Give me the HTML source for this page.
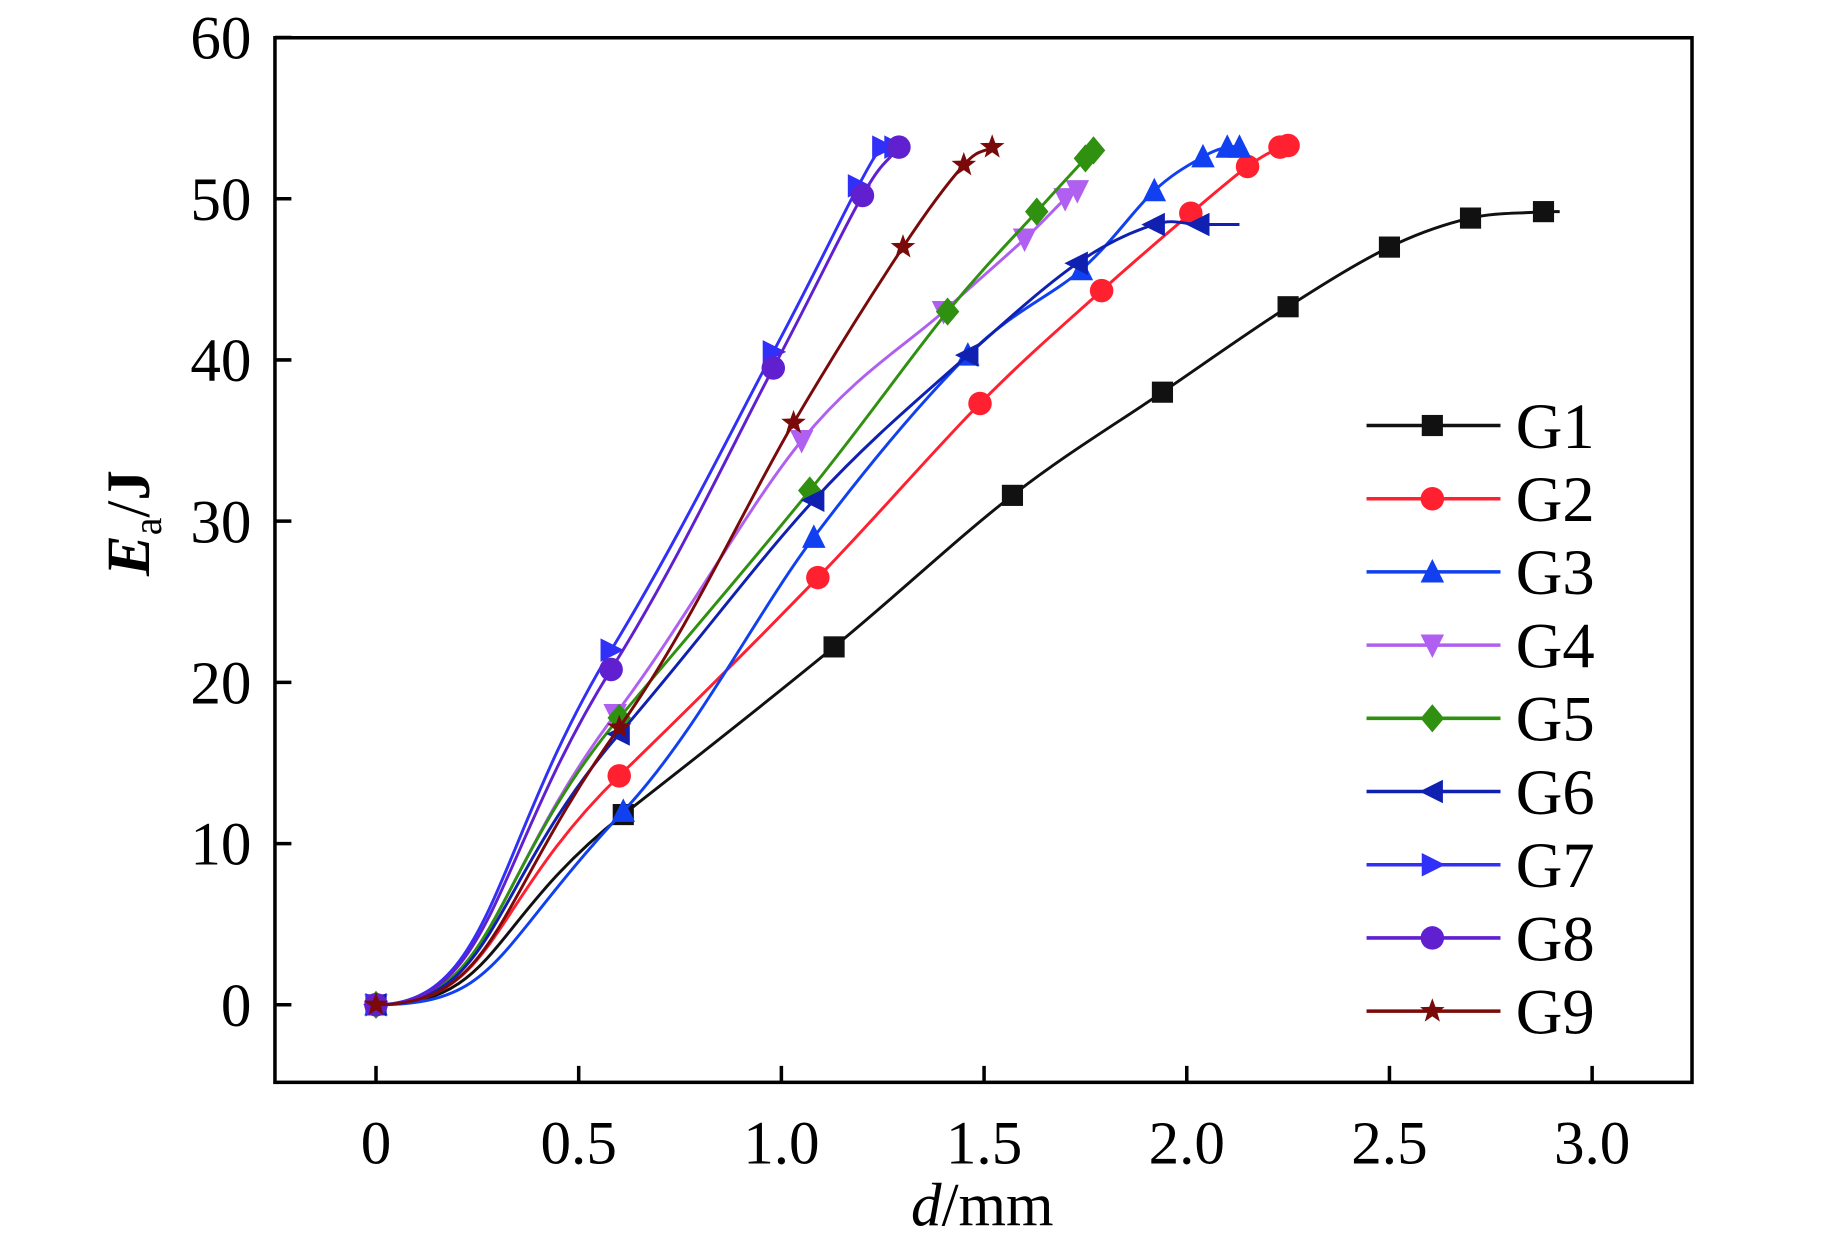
<!DOCTYPE html>
<html><head><meta charset="utf-8"><style>
html,body{margin:0;padding:0;background:#fff;}
svg{display:block;}
text{font-family:"Liberation Serif",serif;fill:#000;}
</style></head><body>
<svg id="chart" width="1843" height="1247" viewBox="0 0 1568.5 1061" xmlns="http://www.w3.org/2000/svg">
<g id="axes"></g>
<g id="series"></g>
<g id="legend"></g>
</svg>
<script>
const xTicks=[0,0.5,1.0,1.5,2.0,2.5,3.0];
const xTickLabels=["0","0.5","1.0","1.5","2.0","2.5","3.0"];
const yTicks=[0,10,20,30,40,50,60];
const yTickLabels=["0","10","20","30","40","50","60"];
const seriesNames=["G1","G2","G3","G4","G5","G6","G7","G8","G9"];
const g1x=[0,0.61,1.13,1.57,1.94,2.25,2.5,2.7,2.88], g1y=[0,11.8,22.2,31.6,38,43.3,47,48.8,49.2];
const g2x=[0,0.6,1.09,1.49,1.79,2.01,2.15,2.23,2.25], g2y=[0,14.2,26.5,37.3,44.3,49.1,52,53.2,53.3];
const g3x=[0,0.61,1.08,1.46,1.74,1.92,2.04,2.1,2.13], g3y=[0,12,29,40.3,45.6,50.5,52.6,53.2,53.2];
const g4x=[0,0.59,1.05,1.4,1.6,1.7,1.73], g4y=[0,18,35,43,47.5,50,50.5];
const g5x=[0,0.6,1.07,1.41,1.63,1.75,1.77], g5y=[0,17.8,31.9,43,49.2,52.5,53];
const g6x=[0,0.6,1.08,1.46,1.73,1.92,2.03], g6y=[0,16.8,31.3,40.3,46,48.4,48.4];
const g7x=[0,0.58,0.98,1.19,1.25,1.28], g7y=[0,22,40.5,50.8,53.2,53.2];
const g8x=[0,0.58,0.98,1.2,1.29], g8y=[0,20.8,39.5,50.2,53.2];
const g9x=[0,0.6,1.03,1.3,1.45,1.52], g9y=[0,17.2,36.1,47,52.1,53.2];

const NS="http://www.w3.org/2000/svg";
const X0=320,XU=345,Y0=855,YU=13.72;
function sx(v){return X0+v*XU;}
function sy(v){return Y0-v*YU;}
function mk(tag,attrs,parent){const e=document.createElementNS(NS,tag);for(const k in attrs)e.setAttribute(k,attrs[k]);parent.appendChild(e);return e;}
const axes=document.getElementById('axes'),ser=document.getElementById('series'),leg=document.getElementById('legend');
const L=234,T=32,R=1440,B=921;
const frame=mk('rect',{x:L,y:T,width:R-L,height:B-T,fill:'none',stroke:'#000','stroke-width':3},axes);


xTicks.forEach((v,i)=>{
  const t=mk('line',{x1:sx(v),x2:sx(v),y1:B,y2:B-14,stroke:'#000','stroke-width':3},axes);
  
  
  const l=mk('text',{x:sx(v),y:990,'text-anchor':'middle','font-size':52},axes);
  l.textContent=xTickLabels[i];
  
  
});
yTicks.forEach((v,i)=>{
  const t=mk('line',{x1:L,x2:L+14,y1:sy(v),y2:sy(v),stroke:'#000','stroke-width':3},axes);
  
  
  const l=mk('text',{x:214,y:sy(v)+18,'text-anchor':'end','font-size':52},axes);
  l.textContent=yTickLabels[i];
  
  
});
const xt=mk('text',{x:836,y:1043,'text-anchor':'middle','font-size':52},axes);
xt.innerHTML='<tspan font-style="italic">d</tspan>/mm';


const yt=mk('text',{x:0,y:0,'text-anchor':'middle','font-size':52,'font-weight':'bold',transform:'translate(127,445) rotate(-90)'},axes);
yt.innerHTML='<tspan font-style="italic">E</tspan><tspan font-size="34" font-weight="normal" dy="10">a</tspan><tspan font-weight="normal" dy="-10">/</tspan><tspan>J</tspan>';



const colors=['#111111','#ff2030','#1040f0','#b060f0','#309010','#1020b0','#3030f8','#6020d0','#7a0a0a'];
const shapes=['square','circle','up','down','diamond','left','right','circle','star'];
const allX=[g1x,g2x,g3x,g4x,g5x,g6x,g7x,g8x,g9x],allY=[g1y,g2y,g3y,g4y,g5y,g6y,g7y,g8y,g9y];
const extend=[2.92,null,null,null,null,2.13,null,null,null];

function marker(shape,x,y,c,parent){
  const s=9;let e;
  if(shape==='square')e=mk('rect',{x:x-s,y:y-s,width:2*s,height:2*s,fill:c},parent);
  else if(shape==='circle')e=mk('circle',{cx:x,cy:y,r:s+1,fill:c},parent);
  else{
    let p;
    if(shape==='up')p=[[x,y-s-2],[x+s+1,y+s],[x-s-1,y+s]];
    else if(shape==='down')p=[[x,y+s+2],[x+s+1,y-s],[x-s-1,y-s]];
    else if(shape==='left')p=[[x-s-2,y],[x+s,y-s-1],[x+s,y+s+1]];
    else if(shape==='right')p=[[x+s+2,y],[x-s,y-s-1],[x-s,y+s+1]];
    else if(shape==='diamond')p=[[x,y-s-3],[x+s+1,y],[x,y+s+3],[x-s-1,y]];
    else {p=[];for(let k=0;k<10;k++){const a=-Math.PI/2+k*Math.PI/5,r=k%2?4.5:11;p.push([x+r*Math.cos(a),y+r*Math.sin(a)]);}}
    e=mk('polygon',{points:p.map(q=>q.join(',')).join(' '),fill:c},parent);
  }
  return e;
}
function smoothPath(px,py){
  let d='M'+px[0]+','+py[0];
  const n=px.length;
  for(let i=0;i<n-1;i++){
    let c1x,c1y,t1x,t1y;
    if(i===0){c1x=px[0]+(px[1]-px[0])*0.5;c1y=py[0];}
    else{c1x=px[i]+(px[i+1]-px[i-1])/6;c1y=py[i]+(py[i+1]-py[i-1])/6;}
    if(i+1===n-1){t1x=px[i+1]-px[i];t1y=py[i+1]-py[i];}
    else{t1x=(px[i+2]-px[i])/2;t1y=(py[i+2]-py[i])/2;}
    let k=(i===0)?0.6:1/3;
    d+=' C'+c1x+','+c1y+' '+(px[i+1]-t1x*k)+','+(py[i+1]-t1y*k)+' '+px[i+1]+','+py[i+1];
  }
  return d;
}
allX.forEach((xs,si)=>{
  const g=mk('g',{},ser);
  
  
  const px=xs.map(sx),py=allY[si].map(sy);
  let d=smoothPath(px,py);
  if(extend[si]!==null)d+=' L'+sx(extend[si])+','+py[py.length-1];
  const p=mk('path',{d:d,fill:'none',stroke:colors[si],'stroke-width':2.5},g);
  
  
  px.forEach((x,k)=>{
    const m=marker(shapes[si],x,py[k],colors[si],g);
    
    
  });
});
seriesNames.forEach((nm,i)=>{
  const y=362+i*62.3;
  const g=mk('g',{},leg);
  
  
  mk('line',{x1:1163,x2:1277,y1:y,y2:y,stroke:colors[i],'stroke-width':3},g);
  marker(shapes[i],1219,y,colors[i],g);
  const t=mk('text',{x:1290,y:y+19,'font-size':55},g);
  t.textContent=nm;
});
</script>
</body></html>
